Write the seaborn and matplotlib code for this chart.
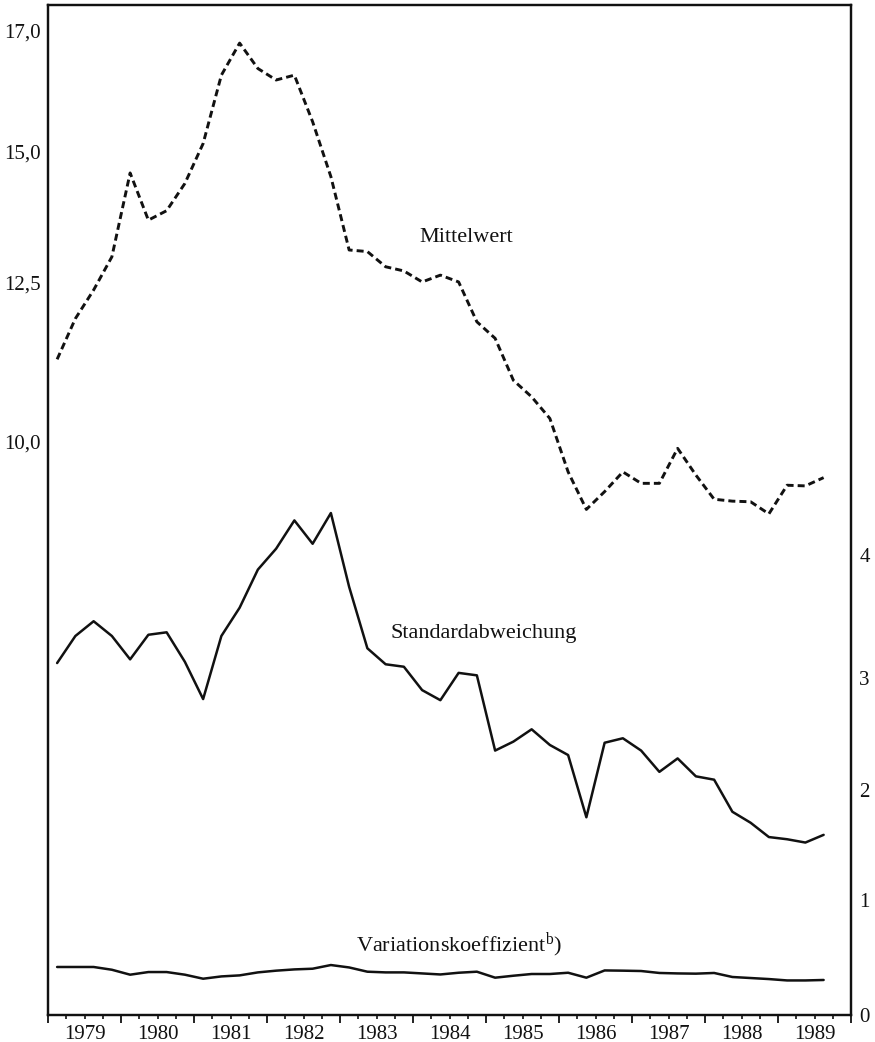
import numpy as np
import pandas as pd
import matplotlib
matplotlib.use("Agg")
import matplotlib.pyplot as plt
import seaborn as sns

# ---------------- data ----------------
quarters = [f"{y}Q{q}" for y in range(1979, 1990) for q in range(1, 5)][:43]

mittelwert = [11.30, 11.94, 12.39, 13.00, 14.60, 13.70, 13.88, 14.40, 15.14, 16.27,
              16.80, 16.38, 16.19, 16.27, 15.50, 14.53, 13.13, 13.10, 12.81, 12.73,
              12.52, 12.65, 12.52, 11.89, 11.63, 10.97, 10.71, 10.37, 9.53, 8.94,
              9.22, 9.53, 9.35, 9.35, 9.90, 9.48, 9.10, 9.07, 9.06, 8.87,
              9.32, 9.31, 9.44]
standardabweichung = [3.12, 3.34, 3.46, 3.34, 3.15, 3.35, 3.37, 3.13, 2.81, 3.34,
                      3.57, 3.88, 4.05, 4.28, 4.09, 4.34, 3.74, 3.24, 3.11, 3.09,
                      2.89, 2.80, 3.04, 3.02, 2.35, 2.43, 2.54, 2.40, 2.31, 1.75,
                      2.42, 2.46, 2.35, 2.16, 2.28, 2.12, 2.09, 1.80, 1.70, 1.57,
                      1.55, 1.52, 1.59]
variationskoeffizient = [0.415, 0.415, 0.415, 0.391, 0.348, 0.371, 0.371, 0.348, 0.313, 0.333,
                         0.342, 0.368, 0.383, 0.394, 0.400, 0.432, 0.411, 0.374, 0.368, 0.368,
                         0.359, 0.350, 0.365, 0.374, 0.322, 0.339, 0.354, 0.354, 0.365, 0.322,
                         0.385, 0.383, 0.380, 0.363, 0.359, 0.357, 0.363, 0.328, 0.319, 0.310,
                         0.298, 0.298, 0.302]

year_labels = [str(y) for y in range(1979, 1990)]
left_ticks = [10.0, 12.5, 15.0, 17.0]
left_labels = ["10,0", "12,5", "15,0", "17,0"]
right_ticks = [0, 1, 2, 3, 4]
right_labels = ["0", "1", "2", "3", "4"]

# ---------------- frame ----------------
# quarter -> decimal year (middle of quarter)
t = np.array([int(q[:4]) + (int(q[-1]) - 1) * 0.25 + 0.125 for q in quarters])
df = pd.DataFrame({"t": t, "mw": mittelwert, "sd": standardabweichung,
                   "vk": variationskoeffizient})

sns.set_style("white")
plt.rcParams["font.family"] = ["Liberation Serif", "DejaVu Serif"]
plt.rcParams["mathtext.fontset"] = "custom"
plt.rcParams["mathtext.rm"] = "Liberation Serif"
plt.rcParams["mathtext.it"] = "Liberation Serif:italic"

ink = "#111111"
fig = plt.figure(figsize=(8.75, 10.42), dpi=100)
ax = fig.add_axes([48 / 875, 1 - 1015 / 1042, (851 - 48) / 875, (1015 - 5) / 1042])
ax2 = ax.twinx()

sns.lineplot(data=df, x="t", y="mw", ax=ax, color=ink, lw=2.1,
             dashes=False, linestyle=(0, (2.4, 1.4)))
sns.lineplot(data=df, x="t", y="sd", ax=ax2, color=ink, lw=1.8)
sns.lineplot(data=df, x="t", y="vk", ax=ax2, color=ink, lw=1.8)

# piecewise scales reproducing the printed (uneven) axis spacing
lv = np.array([0.0, 10.0, 12.5, 15.0, 17.0, 30.0])
lp = np.array([-63.0, 573.0, 732.0, 863.0, 984.0, 1770.5])
rv = np.array([-1.0, 0.0, 1.0, 2.0, 3.0, 4.0, 10.0])
rp = np.array([-115.0, 0.0, 115.0, 225.0, 337.0, 460.0, 1198.0])

def lf(v): return np.interp(v, lv, lp)
def li(p): return np.interp(p, lp, lv)
def rf(v): return np.interp(v, rv, rp)
def ri(p): return np.interp(p, rp, rv)

ax.set_yscale("function", functions=(lf, li))
ax2.set_yscale("function", functions=(rf, ri))
ax.set_ylim(float(li(0)), float(li(1010)))
ax2.set_ylim(float(ri(-0.3)), float(ri(1010)))
ax.set_xlim(1979.0, 1990.0)

ax.set_yticks(left_ticks)
ax.set_yticklabels(left_labels)
ax.yaxis.set_minor_locator(matplotlib.ticker.NullLocator())
ax2.set_yticks(right_ticks)
ax2.set_yticklabels(right_labels)
ax2.yaxis.set_minor_locator(matplotlib.ticker.NullLocator())
ax.tick_params(axis="y", length=0, pad=5, labelsize=15, labelcolor=ink)
ax2.tick_params(axis="y", length=0, pad=6, labelsize=15, labelcolor=ink)

# x axis: labels mid-year, quarter ticks, longer year ticks
ax.set_xticks([int(y) + 0.5 for y in year_labels])
ax.set_xticklabels(year_labels)
ax.set_xticks([y + f for y in range(1979, 1990) for f in (0.25, 0.75)], minor=True)
ax.tick_params(axis="x", which="both", direction="out", length=3.2, width=1.2,
               color=ink, pad=4, labelsize=15, labelcolor=ink, bottom=True)
sec = ax.secondary_xaxis("bottom")
sec.set_xticks(list(range(1979, 1991)))
sec.tick_params(axis="x", direction="out", length=6, width=1.3, color=ink,
                labelbottom=False)
sec.spines["bottom"].set_visible(False)

for a in (ax, ax2):
    a.set_xlabel("")
    a.set_ylabel("")
    for s in a.spines.values():
        s.set_visible(True)
        s.set_color(ink)
        s.set_linewidth(1.6)
    a.grid(False)

ax.text(0.5205, 0.770, "Mittelwert", transform=ax.transAxes, ha="center",
        va="center", fontsize=16, color=ink)
ax.text(0.543, 0.378, "Standardabweichung", transform=ax.transAxes, ha="center",
        va="center", fontsize=16, color=ink)
ax.text(0.512, 0.0693, "Variationskoeffizient$^{\\rm b}$)", transform=ax.transAxes,
        ha="center", va="center", fontsize=16, color=ink)

fig.savefig("out.png", dpi=100, facecolor="white")
